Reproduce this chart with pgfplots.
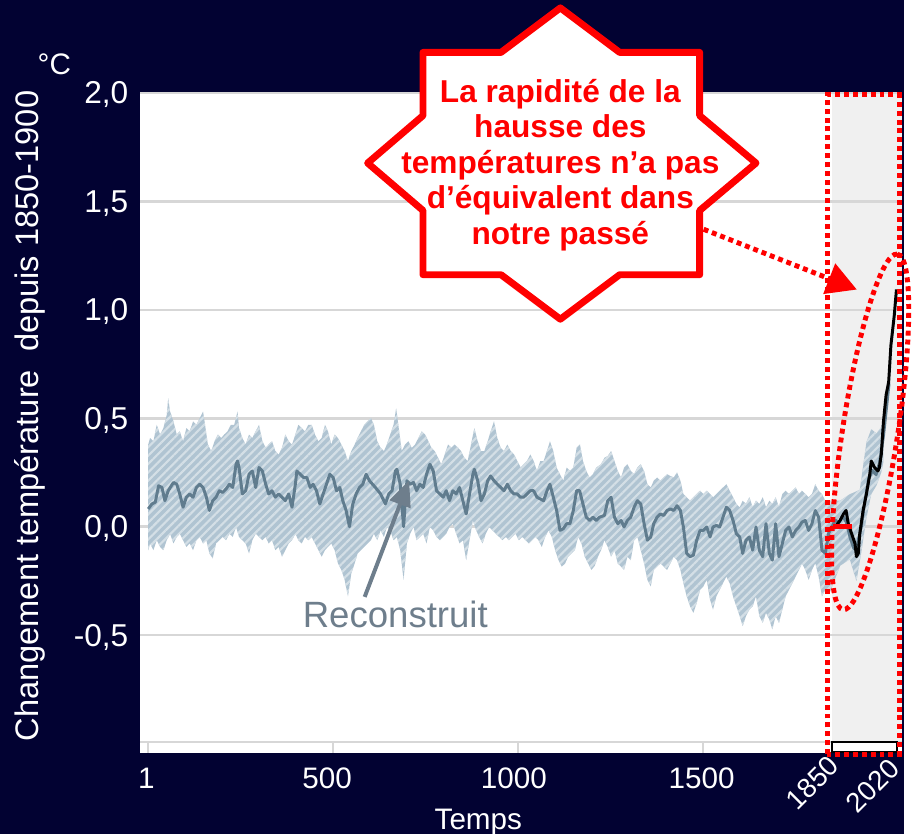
\documentclass[border=0pt]{standalone}
\usepackage{pgfplots}
\pgfplotsset{compat=1.18}
\usepackage{pgfplotstable}
\usetikzlibrary{arrows.meta,patterns.meta}
\usepackage{fontspec}
\setmainfont{Liberation Sans}
\definecolor{navy}{RGB}{2,2,50}
\definecolor{gridc}{RGB}{215,215,215}
\definecolor{bandc}{RGB}{176,196,210}
\definecolor{meanc}{RGB}{96,124,142}
\definecolor{shadec}{RGB}{240,240,240}
\definecolor{annot}{RGB}{110,126,140}
\definecolor{myred}{RGB}{255,0,0}

\pgfplotstableread{
year val
1 0.082
11 0.105
20 0.113
29 0.189
38 0.181
46 0.120
55 0.166
69 0.204
78 0.196
86 0.151
95 0.090
104 0.136
113 0.151
122 0.136
131 0.181
140 0.196
149 0.181
158 0.136
166 0.075
175 0.120
184 0.136
193 0.166
202 0.158
211 0.174
220 0.196
229 0.181
238 0.288
242 0.303
246 0.273
255 0.151
264 0.166
273 0.242
282 0.257
291 0.181
300 0.273
309 0.257
318 0.196
326 0.151
335 0.166
344 0.136
353 0.151
362 0.136
371 0.120
380 0.151
389 0.090
398 0.196
402 0.257
411 0.242
420 0.227
429 0.227
438 0.181
446 0.196
455 0.166
464 0.105
473 0.151
482 0.196
491 0.242
500 0.227
509 0.166
518 0.181
526 0.120
535 0.075
544 0.000
553 0.105
562 0.151
571 0.181
580 0.196
589 0.242
598 0.212
614 0.181
628 0.151
641 0.105
650 0.151
659 0.166
668 0.257
672 0.265
681 0.196
690 0.000
699 0.212
708 0.196
717 0.204
725 0.166
734 0.196
743 0.181
752 0.242
761 0.288
770 0.257
779 0.166
788 0.151
797 0.136
805 0.166
814 0.120
823 0.166
832 0.151
841 0.181
850 0.120
859 0.059
868 0.151
877 0.242
881 0.265
890 0.212
899 0.120
908 0.151
917 0.212
925 0.234
934 0.212
943 0.196
952 0.181
961 0.166
970 0.196
979 0.166
988 0.151
997 0.151
1005 0.136
1014 0.136
1023 0.151
1032 0.166
1041 0.166
1050 0.136
1059 0.128
1068 0.120
1077 0.166
1085 0.196
1094 0.136
1103 0.075
1112 -0.017
1121 -0.009
1130 0.014
1139 0.014
1148 0.075
1157 0.166
1165 0.166
1174 0.105
1183 0.044
1192 0.029
1201 0.044
1210 0.029
1219 0.044
1232 0.052
1241 0.120
1250 0.136
1259 0.044
1268 0.014
1277 0.029
1285 -0.001
1294 0.029
1303 0.044
1312 0.090
1321 0.120
1330 0.105
1339 0.014
1348 -0.062
1357 -0.047
1365 0.014
1374 0.044
1383 0.059
1392 0.052
1401 0.075
1410 0.082
1419 0.075
1428 0.097
1437 0.075
1445 -0.001
1454 -0.123
1463 -0.138
1472 -0.131
1481 -0.062
1490 -0.017
1499 -0.017
1508 -0.001
1517 -0.047
1525 -0.001
1534 0.006
1543 -0.001
1552 0.044
1561 0.090
1570 0.075
1579 0.029
1588 -0.032
1597 -0.047
1605 -0.123
1614 -0.062
1623 -0.047
1632 -0.108
1641 -0.001
1650 -0.108
1659 -0.138
1668 0.014
1677 -0.123
1685 -0.154
1694 0.014
1703 -0.138
1712 -0.077
1721 -0.017
1730 -0.001
1739 -0.047
1748 -0.017
1757 -0.001
1765 0.021
1774 0.029
1783 -0.017
1792 0.014
1801 0.075
1810 0.044
1819 -0.108
1828 -0.123
1837 -0.030
1846 0.000
1855 0.030
1865 0.020
1875 0.050
1885 0.020
1895 -0.050
1905 -0.100
1915 -0.080
1925 0.000
1935 0.120
1945 0.220
1955 0.260
1965 0.240
1975 0.300
1985 0.420
1995 0.580
2000 0.660
}\meandata

\pgfplotstableread{
year val
1 0.379
6 0.409
15 0.394
24 0.470
33 0.425
42 0.455
51 0.516
55 0.592
60 0.531
69 0.486
78 0.425
86 0.440
95 0.394
104 0.455
113 0.440
122 0.486
131 0.470
140 0.501
149 0.531
153 0.486
162 0.379
171 0.349
180 0.394
189 0.425
198 0.409
206 0.425
215 0.440
224 0.470
233 0.470
242 0.531
246 0.455
255 0.409
264 0.379
273 0.425
282 0.409
291 0.440
300 0.470
309 0.394
318 0.364
326 0.379
335 0.394
344 0.349
353 0.333
362 0.364
371 0.425
380 0.394
389 0.379
398 0.425
406 0.470
415 0.455
424 0.440
433 0.470
442 0.470
451 0.425
460 0.394
469 0.409
478 0.470
486 0.440
495 0.379
504 0.425
513 0.409
522 0.379
531 0.349
540 0.303
549 0.349
558 0.379
566 0.409
575 0.440
584 0.470
593 0.486
602 0.501
610 0.470
619 0.394
628 0.364
637 0.349
645 0.379
654 0.425
663 0.470
670 0.546
677 0.455
685 0.349
694 0.379
703 0.394
712 0.364
721 0.379
730 0.409
739 0.440
748 0.425
757 0.394
765 0.364
774 0.349
783 0.318
792 0.288
801 0.333
810 0.379
819 0.364
828 0.379
837 0.364
845 0.349
854 0.318
863 0.303
872 0.379
881 0.455
890 0.394
899 0.349
908 0.349
917 0.394
925 0.440
934 0.486
943 0.409
952 0.364
961 0.349
970 0.379
979 0.349
988 0.333
997 0.303
1006 0.273
1014 0.288
1023 0.303
1032 0.333
1041 0.303
1050 0.257
1059 0.303
1068 0.303
1077 0.349
1085 0.394
1094 0.349
1103 0.273
1112 0.242
1121 0.212
1130 0.273
1139 0.257
1148 0.273
1157 0.364
1166 0.379
1174 0.303
1183 0.257
1192 0.227
1201 0.242
1210 0.273
1223 0.288
1232 0.318
1241 0.326
1250 0.349
1259 0.303
1268 0.257
1277 0.227
1285 0.273
1294 0.288
1303 0.257
1312 0.242
1321 0.273
1330 0.288
1339 0.257
1348 0.196
1357 0.181
1365 0.212
1374 0.227
1383 0.212
1392 0.227
1401 0.242
1410 0.234
1419 0.227
1428 0.250
1437 0.212
1445 0.151
1454 0.136
1463 0.120
1472 0.136
1481 0.151
1490 0.166
1499 0.151
1508 0.166
1517 0.151
1525 0.136
1534 0.151
1543 0.166
1552 0.181
1561 0.196
1570 0.166
1579 0.136
1588 0.105
1597 0.090
1605 0.120
1614 0.105
1623 0.136
1632 0.090
1641 0.120
1650 0.105
1659 0.136
1668 0.090
1677 0.120
1685 0.105
1694 0.136
1703 0.090
1712 0.151
1721 0.166
1730 0.151
1739 0.166
1748 0.181
1757 0.151
1765 0.166
1774 0.151
1783 0.136
1792 0.151
1801 0.196
1810 0.166
1819 0.150
1828 0.120
1841 0.120
1868 0.120
1894 0.150
1921 0.170
1939 0.390
1952 0.450
1966 0.430
1979 0.460
1985 0.500
}\updata

\pgfplotstableread{
year val
1 -0.108
6 -0.077
15 -0.108
24 -0.062
33 -0.093
42 -0.108
51 -0.062
60 -0.032
69 -0.077
78 -0.047
86 -0.032
95 -0.062
104 -0.093
113 -0.077
122 -0.108
131 -0.062
140 -0.047
149 -0.077
158 -0.062
166 -0.123
175 -0.146
184 -0.077
193 -0.062
202 -0.047
211 -0.062
220 -0.032
229 -0.047
238 -0.001
246 -0.047
255 -0.062
264 -0.077
273 -0.123
282 -0.062
291 -0.032
300 -0.047
309 -0.062
318 -0.047
326 -0.077
335 -0.062
344 -0.108
353 -0.093
362 -0.138
371 -0.108
380 -0.077
389 -0.062
398 -0.032
406 -0.062
415 -0.077
424 -0.047
433 -0.062
442 -0.047
451 -0.077
460 -0.108
469 -0.138
478 -0.108
486 -0.093
495 -0.077
504 -0.108
513 -0.169
522 -0.199
531 -0.245
540 -0.321
549 -0.215
558 -0.169
566 -0.123
575 -0.108
584 -0.093
593 -0.077
602 -0.062
610 -0.032
619 -0.062
628 -0.017
637 -0.047
645 -0.001
654 -0.017
663 -0.062
672 -0.047
681 -0.108
690 -0.245
699 -0.077
708 -0.032
717 -0.001
725 -0.062
734 -0.047
743 -0.032
752 -0.077
761 -0.001
770 -0.017
779 -0.047
788 -0.062
797 -0.047
805 -0.032
814 -0.001
823 0.014
832 -0.032
841 -0.077
850 -0.062
859 -0.154
868 -0.062
877 0.029
886 -0.017
894 -0.047
903 -0.077
912 -0.032
921 -0.001
930 -0.017
939 -0.032
948 -0.047
957 -0.062
966 -0.047
974 -0.062
983 -0.047
992 -0.032
1001 -0.062
1010 -0.047
1019 -0.062
1028 -0.077
1037 -0.062
1046 -0.047
1054 -0.062
1063 -0.093
1072 -0.047
1081 -0.017
1090 -0.047
1099 -0.108
1108 -0.154
1117 -0.184
1126 -0.169
1134 -0.138
1143 -0.123
1152 -0.108
1161 -0.047
1170 -0.077
1179 -0.138
1188 -0.169
1197 -0.199
1206 -0.180
1214 -0.140
1223 -0.108
1232 -0.062
1241 -0.093
1250 -0.138
1259 -0.108
1268 -0.169
1277 -0.184
1285 -0.199
1294 -0.138
1303 -0.154
1312 -0.062
1321 -0.047
1330 -0.108
1339 -0.169
1348 -0.245
1357 -0.275
1365 -0.199
1374 -0.184
1383 -0.169
1392 -0.184
1401 -0.199
1410 -0.169
1419 -0.138
1428 -0.154
1437 -0.199
1445 -0.260
1454 -0.321
1463 -0.367
1472 -0.397
1481 -0.352
1490 -0.291
1499 -0.275
1508 -0.245
1517 -0.336
1525 -0.382
1534 -0.321
1543 -0.291
1552 -0.260
1561 -0.230
1570 -0.260
1579 -0.321
1588 -0.367
1597 -0.412
1605 -0.458
1614 -0.412
1623 -0.382
1632 -0.367
1641 -0.321
1650 -0.412
1659 -0.443
1668 -0.397
1677 -0.428
1685 -0.473
1694 -0.412
1703 -0.443
1712 -0.382
1721 -0.321
1730 -0.291
1739 -0.260
1748 -0.230
1757 -0.199
1765 -0.169
1774 -0.199
1783 -0.245
1792 -0.199
1801 -0.169
1810 -0.230
1819 -0.321
1828 -0.291
1841 -0.300
1868 -0.180
1894 -0.150
1912 -0.250
1925 -0.120
1939 0.040
1952 0.150
1966 0.190
1979 0.250
1985 0.300
}\lodata

\pgfplotstableread{
year val
1854 -0.001
1868 0.029
1877 0.059
1884 0.075
1890 0.014
1899 -0.032
1908 -0.077
1912 -0.138
1917 -0.123
1921 -0.032
1930 0.075
1939 0.151
1948 0.242
1952 0.303
1961 0.273
1970 0.257
1974 0.273
1979 0.333
1985 0.486
1992 0.607
1999 0.668
2005 0.836
2014 0.973
2020 1.094
}\obsdata

% band outline: upper bound forward, then lower bound reversed
\pgfplotstablesort[sort key=year, sort cmp=float >]{\lodatarev}{\lodata}
\pgfplotstablevertcat{\updata}{\lodatarev}

\begin{document}
\begin{tikzpicture}[x=1pt,y=1pt]
\fill[navy] (0,0) rectangle (915,844);
\fill[white] (142,82) rectangle (913,750);
\fill[shadec] (842,93) rectangle (913,750);
\draw[gridc, line width=2pt] (142,93) -- (913,93);
\foreach \xx in {150,337,524,711} \draw[gridc, line width=2pt] (\xx,93) -- (\xx,82);
\draw[black, line width=2pt] (842,83) rectangle (908,93);

\begin{axis}[
  at={(142pt,82pt)}, anchor=south west, scale only axis,
  width=771pt, height=668pt,
  xmin=-20.3, xmax=2035.7, ymin=-1.0433, ymax=2.0,
  axis line style={draw=none},
  xtick=\empty,
  ytick={-0.5,0,0.5,1,1.5,2},
  yticklabels={{-0,5},{0,0},{0,5},{1,0},{1,5},{2,0}},
  ymajorgrids, grid style={gridc, line width=2.5pt},
  major tick length=0pt,
  yticklabel style={font=\fontsize{32}{36}\selectfont, text=white, anchor=east, inner xsep=0pt, xshift=-12pt, text depth=0pt},
]
\addplot[fill=bandc, draw=none] table[x=year,y=val]{\updata} -- cycle;
\addplot[draw=none, pattern={Lines[angle=45,distance=6pt,line width=2.2pt]}, pattern color=white!45!bandc] table[x=year,y=val]{\updata} -- cycle;
\addplot[meanc, line width=3pt, line join=round] table[x=year,y=val]{\meandata};
\addplot[black, line width=3pt, line join=round] table[x=year,y=val]{\obsdata};
\addplot[myred, line width=5pt] coordinates {(1850,0) (1900,0)};
\end{axis}

% axis texts
\foreach \xx/\lab in {148/1,331/500,520/1000,710/1500}
  \node[text=white, anchor=base, font=\fontsize{30}{34}\selectfont] at (\xx,46) {\lab};
\node[text=white, anchor=base, font=\fontsize{30}{34}\selectfont] at (484,5) {Temps};
\node[text=white, rotate=45, inner sep=0pt, font=\fontsize{28}{32}\selectfont] at (822,52) {1850};
\node[text=white, rotate=45, inner sep=0pt, font=\fontsize{28}{32}\selectfont] at (883,49) {2020};
\node[text=white, rotate=90, font=\fontsize{33}{36}\selectfont] at (30,423) {Changement température~ depuis 1850-1900};
\node[text=white, font=\fontsize{30}{34}\selectfont] at (55,779) {°C};

% Reconstruit annotation
\node[text=annot, font=\fontsize{37}{40}\selectfont] at (400,222) {Reconstruit};
\draw[annot, line width=4pt, -{Triangle[length=26pt,width=22pt]}] (369,240) -- (414,358);

% red dotted highlights
\draw[myred, line width=5pt, dash pattern=on 5pt off 4pt] (837,81) rectangle (910,748);
\draw[myred, line width=5pt, dash pattern=on 5pt off 4pt, rotate around={81.3:(880.5,407)}] (880.5,407) ellipse [x radius=182, y radius=28];
\draw[myred, line width=5pt, dash pattern=on 5pt off 4pt, -{Triangle[length=30pt,width=32pt]}] (712,612) -- (867,551);

% callout star
\draw[myred, fill=white, line width=7pt, line join=round]
  (567,836) -- (627,791) -- (708,791) -- (708,727) -- (765,679) -- (708,631) -- (708,566) -- (627,566)
  -- (567,521) -- (507,566) -- (428,566) -- (428,631) -- (372,679) -- (428,727) -- (428,791) -- (507,791) -- cycle;
\node[text=myred, align=center, font=\bfseries\fontsize{32}{36}\selectfont] at (567,677)
  {La rapidité de la\\hausse des\\températures n’a pas\\d’équivalent dans\\notre passé};
\end{tikzpicture}
\end{document}
